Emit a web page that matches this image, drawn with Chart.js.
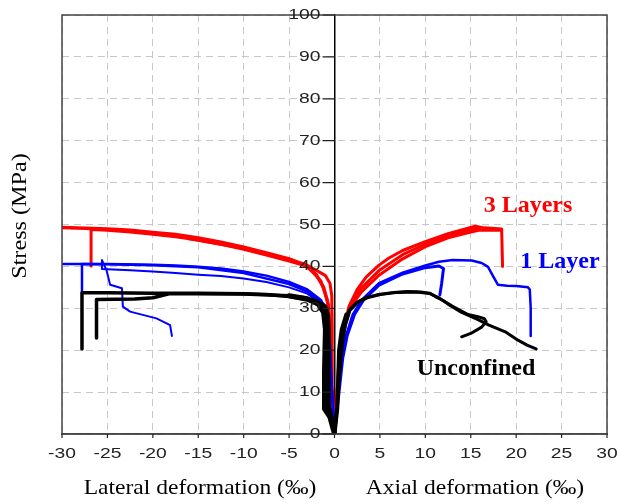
<!DOCTYPE html>
<html>
<head>
<meta charset="utf-8">
<script src="https://cdn.jsdelivr.net/npm/chart.js@4.4.1/dist/chart.umd.min.js"></script>
<style>
html,body{margin:0;padding:0;background:#fff;}
#wrap{width:619px;height:504px;position:relative;}
</style>
</head>
<body>
<div id="wrap"><canvas id="c" width="619" height="504"></canvas></div>
<script>
// ---- Data (strain ‰, stress MPa) ----
const xTicks = [-30,-25,-20,-15,-10,-5,0,5,10,15,20,25,30];
const yTicks = [0,10,20,30,40,50,60,70,80,90,100];

// 3 Layers (red)
const red3AxialA = [[0,0],[0.2,8],[0.5,18],[1,25],[1.6,30.5],[2.5,34.5],[3.5,37.5],[4.9,40.3],[6,42],[7.5,43.8],[10,45.9],[12.5,47.8],[14.7,49.1],[15.5,49.6],[16.5,49.2],[18.4,48.9],[18.5,40]];
const red3AxialB = [[0,0],[0.3,10],[0.7,20],[1.2,26],[1.8,30.5],[3,34],[4.9,37.9],[7.5,41.8],[10,44.7],[12.5,46.8],[15,48.2],[16,48.7],[17.5,48.6],[18.4,48.6]];
const red3AxialC = [[0,0],[0.25,9],[0.6,19],[1.1,25.5],[1.7,30.5],[2.8,34.5],[4.9,39],[7.5,42.8],[10,45.3],[12.5,47.3],[15,48.8],[16,49.3]];
const red3LatA = [[0,0],[-0.3,5],[-0.4,15],[-0.5,25],[-0.7,31],[-1.2,35],[-2,38],[-3.2,40.3],[-5,41.8],[-7.5,43.2],[-10,44.6],[-12.5,45.8],[-15,46.8],[-17.5,47.6],[-20,48.1],[-22.5,48.6],[-25,48.9],[-27.5,49.1],[-30,49.3]];
const red3LatB = [[0,0],[-0.3,8],[-0.5,20],[-0.6,28],[-0.8,32],[-1.5,36.5],[-3,40],[-5,41.3],[-7.5,42.7],[-10,44.1],[-12.5,45.3],[-15,46.3],[-17.5,47.1],[-20,47.7],[-22.5,48.2],[-25,48.6],[-26.8,48.8],[-26.8,40.1]];
const red3LatC = [[0,0],[-0.2,10],[-0.25,25],[-0.3,33],[-0.5,36],[-1,37.8],[-1.7,38.7],[-3.2,40.5],[-5,41.5],[-10,44.3],[-16,46.6]];

// 1 Layer (blue)
const blue1AxialA = [[0,0],[0.4,10],[0.8,18],[1.2,23],[2,28.5],[3,32],[4.9,36],[7.5,38.5],[10,40.2],[11.5,41.1],[13,41.5],[15.1,41.4],[16.2,40.8],[16.9,39.9],[17.5,37.5],[18,35.6],[19,35.4],[20,35.3],[21.3,35],[21.5,34.5],[21.6,30],[21.6,23.4]];
const blue1AxialB = [[0,0],[0.5,10],[0.9,18],[1.4,23.5],[2.2,28.5],[3.2,32],[4.9,35.5],[7.5,38.2],[10,39.7],[11.5,40.1],[12,39.5],[11.8,36],[11.6,33.2]];
const blue1LatA = [[0,0],[-0.3,12],[-0.5,22],[-0.8,29],[-1.5,32],[-3,34.5],[-5,36.3],[-7.5,37.8],[-10,38.8],[-12.5,39.5],[-15,39.9],[-17.5,40.2],[-20,40.4],[-25,40.6],[-27.8,40.6],[-30,40.6]];
const blue1LatB = [[0,0],[-0.3,10],[-0.6,22],[-0.9,28.5],[-1.7,31.5],[-3,33.5],[-5,35],[-7.5,36.3],[-10,37.1],[-12.5,37.7],[-15,38],[-17.5,38.4],[-20,38.8],[-22.5,39.1],[-25.6,39.4],[-25.6,41.5],[-25.1,39.1],[-24.7,35.6],[-23.4,34.8],[-23.3,30.4],[-22.5,29.2],[-19.6,27.6],[-18.1,26],[-17.9,23.4]];
const blue1LatC = [[0,0],[-0.4,15],[-0.7,27],[-1.2,31],[-3,34],[-5,35.8],[-10,38.4],[-15,39.8],[-20,40.3],[-25,40.5],[-27.8,40.6],[-27.8,33.7]];

// Unconfined (black)
const uncAxialA = [[0,0],[0.3,8],[0.5,15],[0.8,22],[1.1,26],[1.6,29.6],[2.5,31.5],[3.5,32.6],[4.9,33.3],[6.5,33.8],[8,34],[9.5,33.9],[10.5,33.6],[11.1,32.8],[12,31.8],[13,30.5],[14.7,28.5],[15.8,28],[16.5,27.5],[16.7,26.8],[16.2,25.5],[15,24],[14,23.2]];
const uncAxialB = [[0,0],[0.35,8],[0.6,15],[0.9,22],[1.2,26],[1.7,29.5],[2.6,31.5],[3.6,32.5],[5,33.3],[7,33.8],[9,33.9],[10.5,33.5],[11.5,32.5],[12.5,31],[14,29],[15.8,27.3],[17,26],[18.8,24.4],[20.2,22.4],[21.2,21.2],[22.2,20.3]];
const uncAxialC = [[0,0],[0.3,6],[0.4,12],[0.5,20],[0.8,25],[1.3,28.5]];
const uncLatA = [[0,0],[-0.3,3],[-0.7,6],[-0.8,15],[-0.8,25],[-0.9,28],[-1.2,30],[-1.7,30.8],[-3,32],[-5,32.8],[-7.5,33.3],[-10,33.5],[-15,33.6],[-20,33.6],[-25,33.7],[-27.8,33.7],[-27.8,20.3]];
const uncLatB = [[0,0],[-0.2,3],[-0.5,6],[-0.6,15],[-0.6,25],[-0.7,28.5],[-1,30.5],[-2,31.8],[-3.5,32.6],[-5,33],[-10,33.4],[-15,33.5],[-18.1,33.5],[-20,32.5],[-22,32.2],[-26.2,32.1],[-26.2,22.9]];
const uncLatC = [[0,0],[-0.5,4],[-1.1,6],[-1.1,15],[-1,25],[-1.2,29],[-1.8,31],[-3,32.3],[-5,33]];

const RED = '#ff0000', BLUE = '#0000ff', BLACK = '#000000';

function ds(points, color, width){
  return {
    data: points.map(p => ({x:p[0], y:p[1]})),
    borderColor: color, backgroundColor: color,
    borderWidth: width, showLine: true, pointRadius: 0, tension: 0, fill: false,
    borderJoinStyle: 'round', borderCapStyle: 'round'
  };
}

const datasets = [
  ds(uncAxialA, BLACK, 3), ds(uncAxialB, BLACK, 3), ds(uncAxialC, BLACK, 4),
  ds(uncLatA, BLACK, 3.5), ds(uncLatB, BLACK, 3.5), ds(uncLatC, BLACK, 5),
  ds(blue1AxialA, BLUE, 2.5), ds(blue1AxialB, BLUE, 3),
  ds(blue1LatA, BLUE, 2.5), ds(blue1LatB, BLUE, 2), ds(blue1LatC, BLUE, 2.5),
  ds(red3AxialA, RED, 3), ds(red3AxialB, RED, 3), ds(red3AxialC, RED, 3),
  ds(red3LatA, RED, 3.5), ds(red3LatB, RED, 3), ds(red3LatC, RED, 3)
];

function stretchedText(ctx, text, x, y, sx, align){
  ctx.save();
  ctx.translate(x, y);
  ctx.scale(sx, 1);
  ctx.textAlign = align;
  ctx.fillText(text, 0, 0);
  ctx.restore();
}

const decor = {
  id: 'decor',
  afterDraw(chart){
    const {ctx, chartArea: a} = chart;
    const xs = chart.scales.x, ys = chart.scales.y;
    ctx.save();
    ctx.strokeStyle = '#444';
    ctx.lineWidth = 1.5;
    ctx.strokeRect(a.left, a.top, a.right - a.left, a.bottom - a.top);
    // tick marks and labels
    const x0 = xs.getPixelForValue(0);
    ctx.strokeStyle = '#222';
    ctx.lineWidth = 1.2;
    ctx.beginPath();
    yTicks.forEach(v => { const py = ys.getPixelForValue(v); ctx.moveTo(x0 - 12, py); ctx.lineTo(x0, py); });
    xTicks.forEach(v => { const px = xs.getPixelForValue(v); ctx.moveTo(px, a.bottom); ctx.lineTo(px, a.bottom + 4); });
    ctx.stroke();
    ctx.fillStyle = '#222';
    ctx.font = '14.5px "Liberation Sans"';
    ctx.textBaseline = 'middle';
    yTicks.forEach(v => stretchedText(ctx, String(v), x0 - 14, ys.getPixelForValue(v), 1.33, 'right'));
    xTicks.forEach(v => stretchedText(ctx, String(v), xs.getPixelForValue(v), a.bottom + 20, 1.33, 'center'));
    // labels
    ctx.textAlign = 'center';
    ctx.font = 'bold 24px "Liberation Serif"';
    ctx.fillStyle = RED; ctx.fillText('3 Layers', 528, 206);
    ctx.fillStyle = BLUE; ctx.fillText('1 Layer', 560, 262);
    ctx.fillStyle = BLACK; ctx.fillText('Unconfined', 476, 369);
    ctx.font = '22px "Liberation Serif"';
    ctx.fillStyle = '#000';
    stretchedText(ctx, 'Lateral deformation (‰)', 200, 488, 1.07, 'center');
    stretchedText(ctx, 'Axial deformation (‰)', 475, 488, 1.07, 'center');
    ctx.translate(20, 216);
    ctx.rotate(-Math.PI/2);
    stretchedText(ctx, 'Stress (MPa)', 0, 0, 1.1, 'center');
    ctx.restore();
  }
};

new Chart(document.getElementById('c'), {
  type: 'scatter',
  data: { datasets },
  options: {
    responsive: false,
    animation: false,
    layout: { padding: { left: 62, right: 12, top: 15, bottom: 70 } },
    plugins: { legend: { display: false }, tooltip: { enabled: false } },
    scales: {
      x: {
        type: 'linear', min: -30, max: 30,
        afterBuildTicks: s => { s.ticks = xTicks.map(v => ({value: v})); },
        grid: { color: '#c8c8c8', lineWidth: 1, drawTicks: false },
        border: { display: true, color: '#444', width: 1.5, dash: [7,5] },
        ticks: { display: false }
      },
      y: {
        type: 'linear', min: 0, max: 100,
        position: { x: 0 },
        afterBuildTicks: s => { s.ticks = yTicks.map(v => ({value: v})); },
        grid: { color: '#c8c8c8', lineWidth: 1, drawTicks: false },
        border: { display: true, color: '#000', width: 1.5, dash: [7,5] },
        ticks: { display: false }
      }
    }
  },
  plugins: [decor]
});
</script>
</body>
</html>
